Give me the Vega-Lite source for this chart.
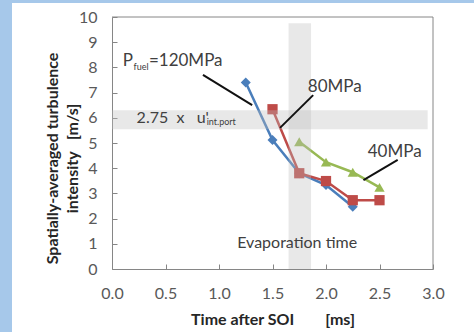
{
  "$schema": "https://vega.github.io/schema/vega-lite/v6.json",
  "width": 462,
  "height": 329,
  "autosize": {"type": "none"},
  "padding": {"left": 12, "top": 3, "right": 0, "bottom": 0},
  "background": "#a6c8ea",
  "config": {
    "view": {"fill": "white", "stroke": null},
    "font": "Lato",
    "axis": {"grid": false}
  },
  "datasets": {
    "series": [
      {"p": "120MPa", "x": 1.25, "y": 7.4},
      {"p": "120MPa", "x": 1.5, "y": 5.12},
      {"p": "120MPa", "x": 1.75, "y": 3.8},
      {"p": "120MPa", "x": 2.0, "y": 3.33},
      {"p": "120MPa", "x": 2.25, "y": 2.47},
      {"p": "80MPa", "x": 1.5, "y": 6.34},
      {"p": "80MPa", "x": 1.75, "y": 3.8},
      {"p": "80MPa", "x": 2.0, "y": 3.49},
      {"p": "80MPa", "x": 2.25, "y": 2.73},
      {"p": "80MPa", "x": 2.5, "y": 2.73},
      {"p": "40MPa", "x": 1.75, "y": 5.05},
      {"p": "40MPa", "x": 2.0, "y": 4.24},
      {"p": "40MPa", "x": 2.25, "y": 3.84},
      {"p": "40MPa", "x": 2.5, "y": 3.24}
    ],
    "bands": [
      {"name": "2.75 x u'int.port", "x": 0, "x2": 2.95, "y": 5.55, "y2": 6.3},
      {"name": "Evaporation time", "x": 1.65, "x2": 1.86, "y": 0, "y2": 9.75}
    ],
    "frame": [
      {"x": 0, "y": 10, "x2": 3, "y2": 10},
      {"x": 3, "y": 0, "x2": 3, "y2": 10}
    ],
    "leaders": [
      {"to": "120MPa", "x": 0.85, "y": 7.7, "x2": 1.31, "y2": 6.5},
      {"to": "80MPa", "x": 1.88, "y": 6.9, "x2": 1.57, "y2": 5.6},
      {"to": "40MPa", "x": 2.67, "y": 4.33, "x2": 2.35, "y2": 3.53}
    ],
    "pressures": [
      {"label": "P", "x": 0.1, "y": 8.25},
      {"label": "=120MPa", "x": 0.345, "y": 8.25},
      {"label": "80MPa", "x": 1.83, "y": 7.22},
      {"label": "40MPa", "x": 2.39, "y": 4.64}
    ],
    "labels": [
      {"label": "2.75\u00a0\u00a0x\u00a0\u00a0\u00a0u'", "x": 0.23, "y": 5.99},
      {"label": "Evaporation time", "x": 1.17, "y": 1.03}
    ],
    "subs": [
      {"label": "fuel", "x": 0.202, "y": 8.03},
      {"label": "int.port", "x": 0.885, "y": 5.82}
    ]
  },
  "encoding": {
    "x": {
      "field": "x",
      "type": "quantitative",
      "scale": {"domain": [0, 3], "range": [100, 421], "nice": false, "zero": false},
      "axis": {
        "offset": -63,
        "values": [0, 0.5, 1, 1.5, 2, 2.5, 3],
        "format": ".1f",
        "domainColor": "#868686",
        "tickColor": "#868686",
        "tickSize": -5,
        "labelPadding": 21,
        "labelColor": "#595959",
        "labelFontSize": 16,
        "labelFlush": false,
        "labelBound": false,
        "title": "Time after SOI\u00a0\u00a0\u00a0\u00a0\u00a0\u00a0\u00a0\u00a0[ms]",
        "titleFontSize": 16,
        "titleFontWeight": "bold",
        "titleColor": "#262626",
        "titlePadding": 10
      }
    },
    "y": {
      "field": "y",
      "type": "quantitative",
      "scale": {"domain": [0, 10], "range": [266, 14], "nice": false, "zero": false},
      "axis": {
        "offset": -100,
        "values": [0, 1, 2, 3, 4, 5, 6, 7, 8, 9, 10],
        "domainColor": "#868686",
        "tickColor": "#868686",
        "tickSize": -5,
        "labelPadding": 20,
        "labelColor": "#595959",
        "labelFontSize": 16,
        "labelFlush": false,
        "labelBound": false,
        "title": ["Spatially-averaged turbulence", "intensity\u00a0\u00a0\u00a0[m/s]"],
        "titleFontSize": 16,
        "titleFontWeight": "bold",
        "titleColor": "#262626",
        "titleLineHeight": 20,
        "titleX": -60,
        "titleY": 155,
        "titleBaseline": "middle",
        "titleAlign": "center",
        "titleAngle": -90
      }
    }
  },
  "layer": [
    {
      "data": {"name": "series"},
      "transform": [{"filter": "datum.p === '40MPa'"}],
      "mark": {"type": "line", "color": "#98b954", "strokeWidth": 2.5,
        "point": {"shape": "triangle-up", "size": 105, "filled": true, "color": "#98b954", "opacity": 1}}
    },
    {
      "data": {"name": "series"},
      "transform": [{"filter": "datum.p === '120MPa'"}],
      "mark": {"type": "line", "color": "#4a7ebb", "strokeWidth": 2.5,
        "point": {"shape": "diamond", "size": 100, "filled": true, "color": "#4a7ebb", "opacity": 1}}
    },
    {
      "data": {"name": "series"},
      "transform": [{"filter": "datum.p === '80MPa'"}],
      "mark": {"type": "line", "color": "#be4b48", "strokeWidth": 2.5,
        "point": {"shape": "square", "size": 105, "filled": true, "color": "#be4b48", "opacity": 1}}
    },
    {
      "data": {"name": "bands"},
      "mark": {"type": "rect", "color": "#bdbdbd", "opacity": 0.35},
      "encoding": {"x2": {"field": "x2"}, "y2": {"field": "y2"}}
    },
    {
      "data": {"name": "frame"},
      "mark": {"type": "rule", "color": "#868686", "strokeWidth": 1},
      "encoding": {"x2": {"field": "x2"}, "y2": {"field": "y2"}}
    },
    {
      "data": {"name": "leaders"},
      "mark": {"type": "rule", "color": "#111111", "strokeWidth": 2},
      "encoding": {"x2": {"field": "x2"}, "y2": {"field": "y2"}}
    },
    {
      "data": {"name": "pressures"},
      "mark": {"type": "text", "align": "left", "baseline": "middle", "fontSize": 17, "color": "#404040"},
      "encoding": {"text": {"field": "label"}}
    },
    {
      "data": {"name": "labels"},
      "mark": {"type": "text", "align": "left", "baseline": "middle", "fontSize": 16, "color": "#404040"},
      "encoding": {"text": {"field": "label"}}
    },
    {
      "data": {"name": "subs"},
      "mark": {"type": "text", "align": "left", "baseline": "middle", "fontSize": 9, "color": "#404040"},
      "encoding": {"text": {"field": "label"}}
    }
  ]
}
